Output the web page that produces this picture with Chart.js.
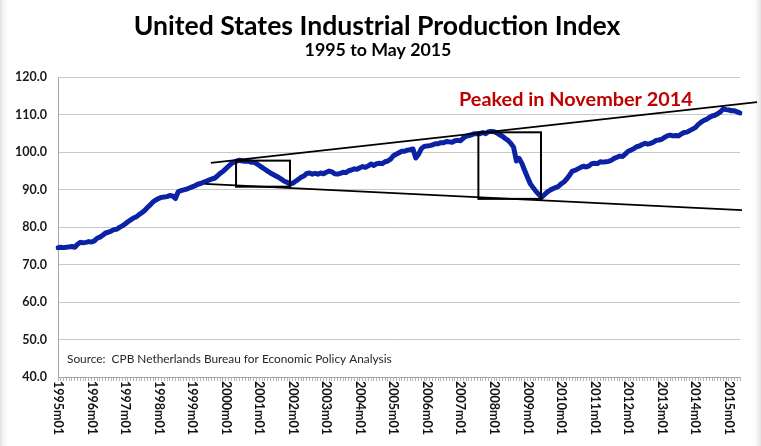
<!DOCTYPE html>
<html><head><meta charset="utf-8">
<script src="https://cdn.jsdelivr.net/npm/chart.js@4/dist/chart.umd.min.js"></script>
<style>html,body{margin:0;padding:0;background:#fff;overflow:hidden}#wrap{width:761px;height:446px;position:relative}</style>
</head><body><div id="wrap"><canvas id="c" width="761" height="446"></canvas></div>
<script>
// ---- Data ----
const years = [1995,1996,1997,1998,1999,2000,2001,2002,2003,2004,2005,2006,2007,2008,2009,2010,2011,2012,2013,2014,2015];
const monthsInLastYear = 5; // data ends May 2015

const ip1995 = [74.5, 74.6, 74.5, 74.6, 74.7, 74.8, 74.6, 75.4, 75.9, 75.8, 75.9, 76.1];
const ip1996 = [76.0, 76.3, 77.0, 77.3, 77.8, 78.4, 78.6, 78.9, 79.3, 79.4, 79.9, 80.3];
const ip1997 = [80.8, 81.4, 81.9, 82.4, 82.7, 83.3, 83.8, 84.4, 85.2, 85.9, 86.7, 87.2];
const ip1998 = [87.6, 87.9, 88.0, 88.1, 88.4, 88.3, 87.6, 89.4, 89.7, 89.9, 90.1, 90.4];
const ip1999 = [90.7, 91.0, 91.4, 91.6, 91.9, 92.2, 92.5, 92.8, 93.0, 93.6, 94.3, 94.8];
const ip2000 = [95.5, 96.2, 96.9, 97.3, 97.6, 97.8, 97.6, 97.5, 97.6, 97.3, 97.3, 96.9];
const ip2001 = [96.4, 95.9, 95.4, 94.9, 94.4, 94.0, 93.6, 93.2, 92.7, 92.2, 91.9, 91.4];
const ip2002 = [91.7, 92.2, 92.7, 93.3, 93.6, 94.3, 94.4, 94.1, 94.3, 94.1, 94.4, 94.2];
const ip2003 = [94.6, 94.9, 94.7, 94.2, 94.1, 94.3, 94.6, 94.5, 95.0, 95.2, 95.5, 95.4];
const ip2004 = [95.8, 96.1, 95.9, 96.3, 96.8, 96.4, 96.9, 97.0, 96.9, 97.4, 97.6, 98.1];
const ip2005 = [99.0, 99.4, 99.8, 100.2, 100.2, 100.5, 100.6, 100.8, 98.4, 99.4, 100.9, 101.5];
const ip2006 = [101.6, 101.7, 101.9, 102.2, 102.2, 102.5, 102.5, 102.8, 102.7, 102.6, 103.0, 103.1];
const ip2007 = [103.0, 103.7, 104.2, 104.4, 104.6, 104.9, 104.9, 104.9, 105.2, 104.9, 105.4, 105.5];
const ip2008 = [105.4, 105.1, 104.6, 104.2, 103.6, 103.1, 102.3, 101.3, 97.6, 98.3, 96.9, 95.0];
const ip2009 = [93.2, 91.5, 90.5, 89.5, 88.7, 87.9, 88.6, 89.3, 89.8, 90.2, 90.5, 90.8];
const ip2010 = [91.5, 92.0, 92.8, 93.8, 94.9, 95.1, 95.5, 95.9, 96.2, 96.0, 96.3, 96.9];
const ip2011 = [97.0, 96.9, 97.4, 97.3, 97.4, 97.5, 97.8, 98.3, 98.6, 98.9, 98.8, 99.5];
const ip2012 = [100.2, 100.5, 100.9, 101.4, 101.6, 102.0, 102.3, 102.1, 102.3, 102.6, 103.1, 103.2];
const ip2013 = [103.4, 103.9, 104.3, 104.5, 104.3, 104.4, 104.3, 104.8, 105.2, 105.3, 105.7, 106.1];
const ip2014 = [106.5, 107.3, 107.9, 108.4, 108.7, 109.2, 109.6, 109.8, 110.2, 110.7, 111.5, 111.3];
const ip2015 = [111.2, 111.0, 111.0, 110.7, 110.4];

const yTicks = [40, 50, 60, 70, 80, 90, 100, 110, 120];
const xTickLabels = years.map(y => y + 'm01');

// annotation shapes in data coordinates [monthIndex, value]
const upperTrend = [[54.7, 97.1], [250.1, 113.3]];
const lowerTrend = [[52.6, 91.5], [244.7, 84.5]];
const box2001 = [[63.7, 97.7], [83.0, 90.75]];
const box2008 = [[150.4, 105.25], [172.8, 87.5]];

const titleText = 'United States Industrial Production Index';
const subtitleText = '1995 to May 2015';
const peakText = 'Peaked in November 2014';
const sourceText = 'Source:  CPB Netherlands Bureau for Economic Policy Analysis';

// ---- Build categories & series ----
const categories = [];
years.forEach((y, i) => {
  const n = i === years.length - 1 ? monthsInLastYear : 12;
  for (let m = 1; m <= n; m++) categories.push(y + 'm' + String(m).padStart(2, '0'));
});
const values = [].concat(ip1995, ip1996, ip1997, ip1998, ip1999, ip2000, ip2001, ip2002, ip2003,
  ip2004, ip2005, ip2006, ip2007, ip2008, ip2009, ip2010, ip2011, ip2012, ip2013, ip2014, ip2015);

const FAM = 'Lato, "Open Sans", "DejaVu Sans", sans-serif';

function fitFont(ctx, text, weight, targetW) {
  ctx.font = weight + ' 20px ' + FAM;
  const w = ctx.measureText(text).width;
  return 20 * targetW / w;
}

const decor = {
  id: 'decor',
  beforeDraw(chart) {
    const ctx = chart.ctx, W = chart.width, H = chart.height;
    ctx.save();
    ctx.fillStyle = '#fff';
    ctx.fillRect(0, 0, W, H);
    let g = ctx.createLinearGradient(0, 0, 9, 0);
    g.addColorStop(0, '#e2e2e2'); g.addColorStop(1, 'rgba(255,255,255,0)');
    ctx.fillStyle = g; ctx.fillRect(0, 0, 9, H);
    g = ctx.createLinearGradient(W - 9, 0, W, 0);
    g.addColorStop(0, 'rgba(255,255,255,0)'); g.addColorStop(1, '#e2e2e2');
    ctx.fillStyle = g; ctx.fillRect(W - 9, 0, 9, H);
    ctx.restore();
  },
  afterDatasetsDraw(chart) {
    const ctx = chart.ctx, xs = chart.scales.x, ys = chart.scales.y;
    const P = p => [xs.getPixelForValue(p[0]), ys.getPixelForValue(p[1])];
    ctx.save();
    ctx.strokeStyle = '#000';
    ctx.lineWidth = 1.6;
    [upperTrend, lowerTrend].forEach(seg => {
      const a = P(seg[0]), b = P(seg[1]);
      ctx.beginPath(); ctx.moveTo(a[0], a[1]); ctx.lineTo(b[0], b[1]); ctx.stroke();
    });
    ctx.lineWidth = 2;
    [box2001, box2008].forEach(bx => {
      const a = P(bx[0]), b = P(bx[1]);
      ctx.strokeRect(a[0], a[1], b[0] - a[0], b[1] - a[1]);
    });
    ctx.restore();
  },
  afterDraw(chart) {
    const ctx = chart.ctx, xs = chart.scales.x, area = chart.chartArea;
    ctx.save();
    // titles
    ctx.fillStyle = '#000';
    ctx.textAlign = 'center'; ctx.textBaseline = 'alphabetic';
    let s = fitFont(ctx, titleText, 'bold', 487);
    ctx.font = 'bold ' + s + 'px ' + FAM;
    ctx.fillText(titleText, 377, 35);
    s = fitFont(ctx, subtitleText, 'bold', 147);
    ctx.font = 'bold ' + s + 'px ' + FAM;
    ctx.fillText(subtitleText, 378, 56);
    // red note
    ctx.textAlign = 'left';
    s = fitFont(ctx, peakText, 'bold', 234);
    ctx.font = 'bold ' + s + 'px ' + FAM;
    ctx.fillStyle = '#c00000';
    ctx.fillText(peakText, 459, 106);
    // source
    s = fitFont(ctx, sourceText, 'normal', 325);
    ctx.font = 'normal ' + s + 'px ' + FAM;
    ctx.fillStyle = '#262626';
    ctx.fillText(sourceText, 67, 363);
    // x tick labels, rotated clockwise
    ctx.font = 'bold 12.5px ' + FAM;
    ctx.fillStyle = '#111';
    ctx.textBaseline = 'middle';
    xTickLabels.forEach(lbl => {
      const idx = categories.indexOf(lbl);
      const x = xs.getPixelForValue(idx);
      ctx.save();
      ctx.translate(x, area.bottom + 4);
      ctx.rotate(Math.PI / 2);
      ctx.fillText(lbl, 0, 0);
      ctx.restore();
    });
    ctx.restore();
  }
};

new Chart(document.getElementById('c').getContext('2d'), {
  type: 'line',
  data: {
    labels: categories,
    datasets: [{
      data: values,
      borderColor: '#0a22a3',
      borderWidth: 5,
      pointRadius: 0,
      tension: 0,
      fill: false,
      borderJoinStyle: 'round',
      borderCapStyle: 'round'
    }]
  },
  options: {
    responsive: false,
    animation: false,
    devicePixelRatio: 1,
    layout: { padding: { top: 77, right: 21, left: 0, bottom: 0 } },
    plugins: { legend: { display: false }, tooltip: { enabled: false }, title: { display: false } },
    scales: {
      x: {
        type: 'category',
        offset: false,
        grid: { drawOnChartArea: false, drawTicks: true, tickLength: 4, tickColor: '#b4b4b4', lineWidth: 1 },
        border: { color: '#a6a6a6', width: 1 },
        ticks: { display: false, autoSkip: false },
        afterFit(sc) { sc.height = 69; }
      },
      y: {
        min: 40, max: 120,
        afterBuildTicks(sc) { sc.ticks = yTicks.map(v => ({ value: v })); },
        ticks: {
          callback: v => Number(v).toFixed(1),
          font: { family: FAM, weight: 'bold', size: 12.5 },
          color: '#1a1a1a',
          padding: 11
        },
        grid: { color: '#c8c8c8', drawTicks: false, lineWidth: 1 },
        border: { color: '#a6a6a6', width: 1 },
        afterFit(sc) { sc.width = 58; }
      }
    }
  },
  plugins: [decor]
});
</script>
</body></html>
